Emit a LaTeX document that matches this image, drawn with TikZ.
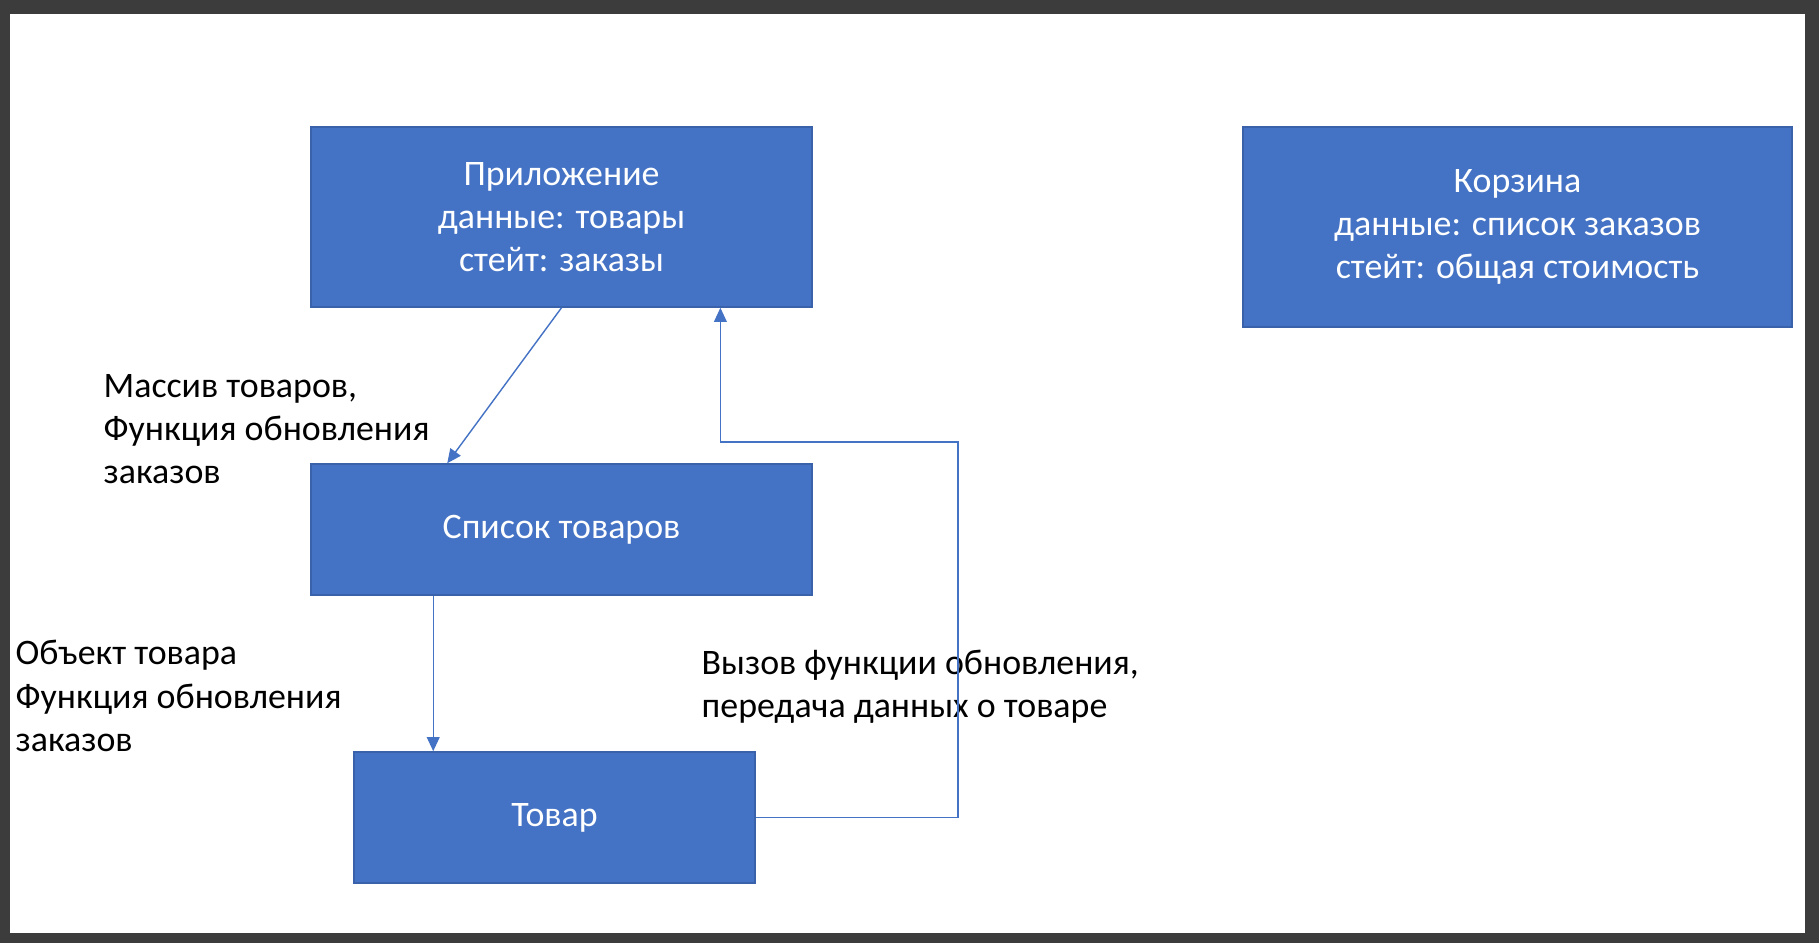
\documentclass[tikz,border=0pt]{standalone}
\usepackage{fontspec}
\setmainfont{Carlito}
\usetikzlibrary{arrows.meta}
\definecolor{boxblue}{HTML}{4472C4}
\definecolor{boxedge}{HTML}{3A62AA}
\definecolor{framegray}{HTML}{3C3C3C}
\begin{document}
\begin{tikzpicture}[x=0.01cm,y=-0.01cm,
    block/.style={draw=boxedge,fill=boxblue,text=white,align=center,inner sep=0pt,
      font=\fontsize{10.2}{12.3}\selectfont},
    note/.style={anchor=west,align=left,inner sep=0pt,
      font=\fontsize{10.2}{12.3}\selectfont},
    link/.style={draw=boxblue,line width=0.4pt,-{Triangle[length=4pt,width=3.6pt]}}]
  \fill[framegray] (0,0) rectangle (1819,943);
  \fill[white] (10,14) rectangle (1805,933);
  \draw
    (561.5,217) node[block,minimum width=5.01cm,minimum height=1.8cm] (app)
      {Приложение\\данные: товары\\стейт: заказы}
    (561.5,529.5) node[block,minimum width=5.01cm,minimum height=1.31cm] (list)
      {Список товаров}
    (554.5,817.5) node[block,minimum width=4.01cm,minimum height=1.31cm] (item)
      {Товар}
    (1517.5,227) node[block,minimum width=5.49cm,minimum height=2cm] (cart)
      {Корзина\\данные: список заказов\\стейт: общая стоимость};
  \draw
    (103,429) node[note] (propsList) {Массив товаров,\\Функция обновления\\заказов}
    (15,696) node[note] (propsItem) {Объект товара\\Функция обновления\\заказов}
    (701,687) node[note] (callback) {Вызов функции обновления,\\передача данных о товаре};
  \begin{scope}[link]
    \draw (app.south) to ([xshift=1.37cm]list.north west);
    \draw ([xshift=1.23cm]list.south west) to ([xshift=1.23cm]list.south west |- item.north);
    \draw (item.east) -- (958,817.5) -- (958,442) -| ([xshift=4.1cm]app.south west);
  \end{scope}
\end{tikzpicture}
\end{document}
